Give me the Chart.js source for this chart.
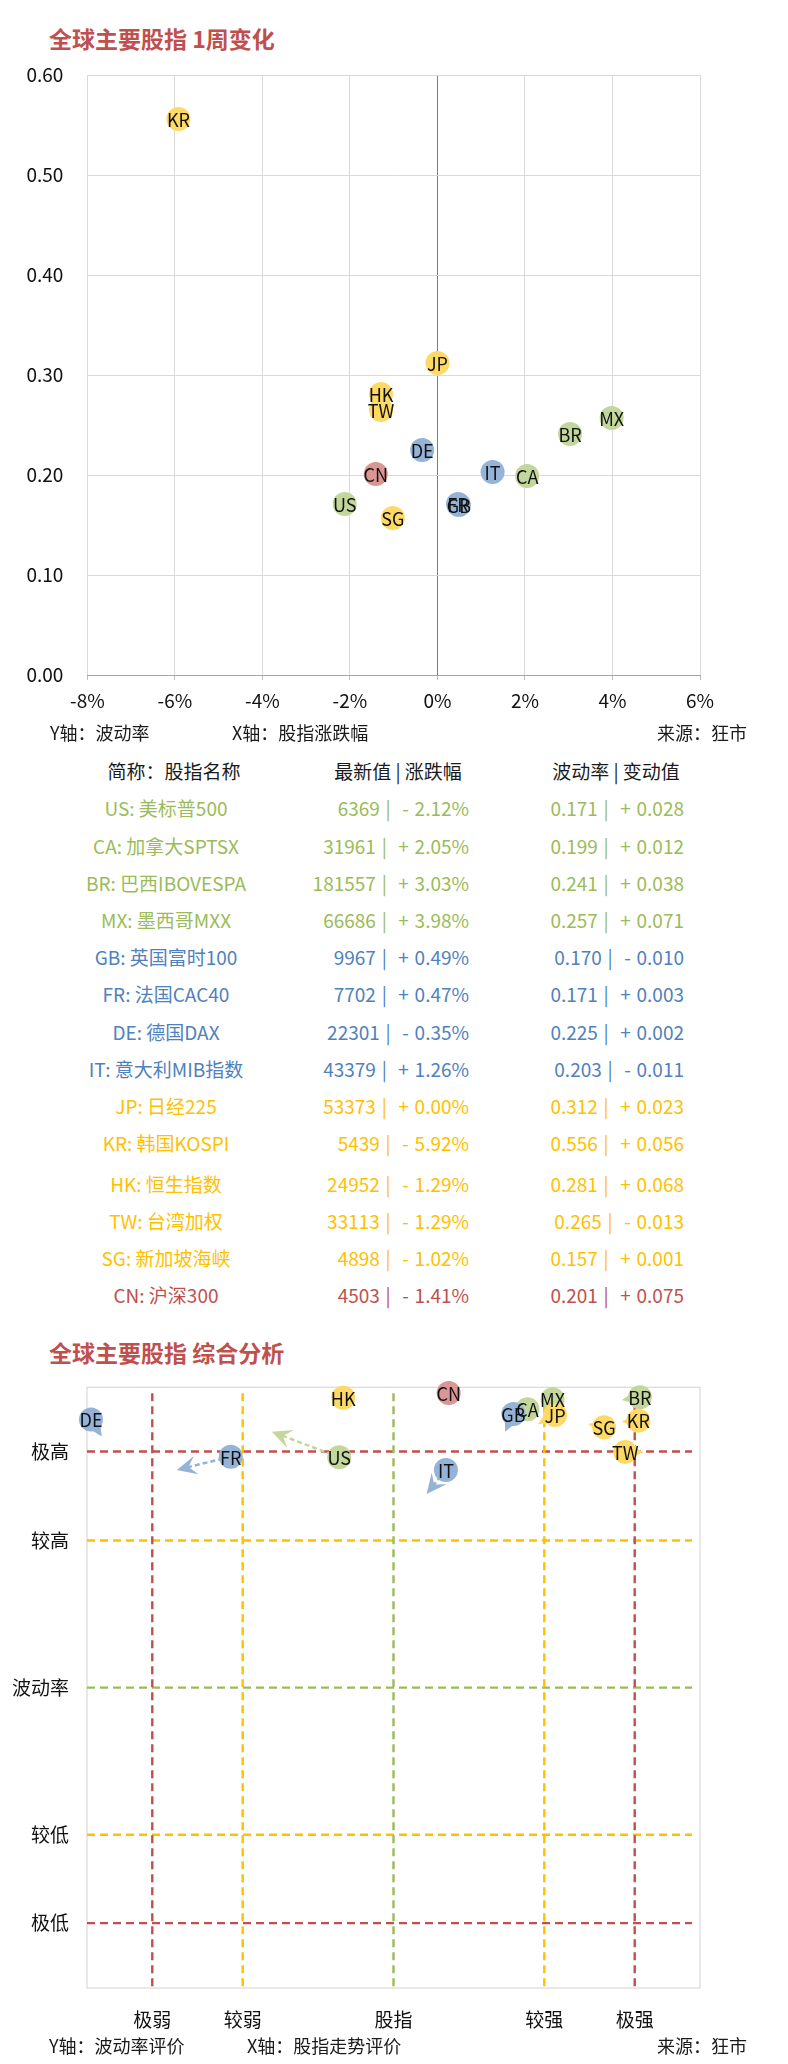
<!DOCTYPE html>
<html><head><meta charset="utf-8">
<script src="https://cdn.jsdelivr.net/npm/chart.js@4.4.1/dist/chart.umd.min.js"></script>
<style>
body{margin:0;background:#fff;font-family:"Noto Sans CJK SC","Noto Sans",sans-serif;}
#page{position:relative;width:788px;height:2064px;overflow:hidden;background:#fff;}
.t{position:absolute;white-space:nowrap;line-height:1;transform:translateY(-50%);font-size:18px;color:#1a1a1a;}
.title{position:absolute;white-space:nowrap;line-height:1;transform:translateY(-50%);font-size:23px;font-weight:bold;color:#c0504d;}
.wrap{position:absolute;left:0;width:788px;}
.cell{position:absolute;white-space:pre;line-height:1;font-size:19px;}
.num{word-spacing:1.5px;}
</style></head>
<body><div id="page">
<div class="title" style="left:49px;top:38px">全球主要股指 1周变化</div>
<div class="wrap" style="top:50px;height:680px"><canvas id="c1"></canvas></div>
<div class="t" style="left:50px;top:732px">Y轴：波动率</div>
<div class="t" style="left:232px;top:732px">X轴：股指涨跌幅</div>
<div class="t" style="right:41px;top:732px">来源：狂市</div>
<div id="table"></div>
<div class="title" style="left:49px;top:1352px">全球主要股指 综合分析</div>
<div class="wrap" style="top:1370px;height:665px"><canvas id="c2"></canvas></div>
<div class="t" style="left:49px;top:2045px">Y轴：波动率评价</div>
<div class="t" style="left:247px;top:2045px">X轴：股指走势评价</div>
<div class="t" style="right:41px;top:2045px">来源：狂市</div>
</div>
<script>
// ---------- data ----------
const codes = ['US','CA','BR','MX','GB','FR','DE','IT','JP','KR','HK','TW','SG','CN'];
const names = ['美标普500','加拿大SPTSX','巴西IBOVESPA','墨西哥MXX','英国富时100','法国CAC40','德国DAX','意大利MIB指数','日经225','韩国KOSPI','恒生指数','台湾加权','新加坡海峡','沪深300'];
const regions = ['am','am','am','am','eu','eu','eu','eu','as','as','as','as','as','cn'];
const latest = [6369,31961,181557,66686,9967,7702,22301,43379,53373,5439,24952,33113,4898,4503];
const weekChange = [-2.12,2.05,3.03,3.98,0.49,0.47,-0.35,1.26,0.00,-5.92,-1.29,-1.29,-1.02,-1.41];
const volatility = [0.171,0.199,0.241,0.257,0.170,0.171,0.225,0.203,0.312,0.556,0.281,0.265,0.157,0.201];
const volChange = [0.028,0.012,0.038,0.071,-0.010,0.003,0.002,-0.011,0.023,0.056,0.068,-0.013,0.001,0.075];

const trendScore = [-17.7,43.7,80.4,51.9,39.1,-53.1,-98.7,17.1,52.7,79.9,-16.4,75.6,68.7,18.0];
const volScore   = [76.7,92.7,96.7,96.0,91.1,76.9,89.3,72.5,90.8,88.9,96.5,78.5,86.7,98.1];
const arrowTrend = [-39.7,null,74.5,null,36.4,-70.7,-95.2,10.8,47.1,74.5,null,81.6,63.5,null];
const arrowVol   = [85.2,null,95.8,null,85.2,72.5,83.6,64.5,87.8,88.5,null,78.5,87.8,null];

const trendLevels = [-78.7,-49.2,0,49.2,78.7];
const trendLabels = ['极弱','较弱','股指','较强','极强'];
const volLevels = [78.6,49,0,-49,-78.4];
const volLabels = ['极高','较高','波动率','较低','极低'];

// ---------- styles ----------
const FONT = '"Noto Sans CJK SC","Noto Sans",sans-serif';
const fillColor = {am:'#c3d69b', eu:'#95b3d7', as:'#ffd966', cn:'#d99694'};
const textColor = {am:'#9bbb59', eu:'#4f81bd', as:'#ffc000', cn:'#c0504d'};
const levelColor = ['#c0504d','#ffc000','#9bbb59','#ffc000','#c0504d'];

// ---------- table ----------
const table = document.getElementById('table');
function addCell(txt, style, color, cls){
  const d = document.createElement('div');
  d.className='cell'+(cls?' '+cls:''); d.textContent=txt; d.style.cssText=style; d.style.color=color;
  table.appendChild(d);
}
function sgn(v){ return v<0 ? '-' : '+'; }
addCell('简称：股指名称','left:174px;top:770px;transform:translate(-50%,-50%)','#1a1a1a');
addCell('最新值 | 涨跌幅','left:398px;top:770px;transform:translate(-50%,-50%)','#1a1a1a');
addCell('波动率 | 变动值','left:616px;top:770px;transform:translate(-50%,-50%)','#1a1a1a');
codes.forEach((c,i)=>{
  const y = 807.3 + i*37.2 + (i>=10?3.5:0);
  const col = textColor[regions[i]];
  addCell(c+': '+names[i], 'left:166px;top:'+y+'px;transform:translate(-50%,-50%)', col);
  addCell(latest[i]+' |  '+sgn(weekChange[i])+' '+Math.abs(weekChange[i]).toFixed(2)+'%', 'right:319px;top:'+y+'px;transform:translateY(-50%)', col, 'num');
  addCell(volatility[i].toFixed(3)+' |  '+sgn(volChange[i])+' '+Math.abs(volChange[i]).toFixed(3), 'right:104px;top:'+y+'px;transform:translateY(-50%)', col, 'num');
});

// ---------- plugins ----------
const labelPlugin = {
  id:'bubbleLabels',
  afterDatasetsDraw(chart){
    const ctx = chart.ctx, meta = chart.getDatasetMeta(0);
    ctx.save();
    ctx.font = '18px '+FONT; ctx.fillStyle='#111'; ctx.textAlign='center'; ctx.textBaseline='middle';
    meta.data.forEach((pt,i)=>ctx.fillText(codes[i], pt.x, pt.y+1));
    ctx.restore();
  }
};

function arrowHead(ctx, x0,y0,x1,y1, color){
  const dx=x1-x0, dy=y1-y0, len=Math.hypot(dx,dy)||1;
  const ux=dx/len, uy=dy/len, nx=-uy, ny=ux;
  const L=20, W=9.5;
  ctx.fillStyle=color;
  ctx.beginPath();
  ctx.moveTo(x1,y1);
  ctx.lineTo(x1-ux*L+nx*W, y1-uy*L+ny*W);
  ctx.lineTo(x1-ux*L*0.6, y1-uy*L*0.6);
  ctx.lineTo(x1-ux*L-nx*W, y1-uy*L-ny*W);
  ctx.closePath(); ctx.fill();
}

const quadPlugin = {
  id:'quadrants',
  beforeDatasetsDraw(chart){
    const ctx=chart.ctx, a=chart.chartArea, xs=chart.scales.x, ys=chart.scales.y;
    ctx.save();
    ctx.strokeStyle='#d9d9d9'; ctx.lineWidth=1.2; ctx.setLineDash([]);
    ctx.strokeRect(a.left, a.top, a.right-a.left, a.bottom-a.top);
    ctx.lineWidth=2.4; ctx.setLineDash([8,5]);
    volLevels.forEach((v,i)=>{
      const y=ys.getPixelForValue(v);
      ctx.strokeStyle=levelColor[i]; ctx.beginPath(); ctx.moveTo(a.left,y); ctx.lineTo(a.right-8,y); ctx.stroke();
    });
    trendLevels.forEach((v,i)=>{
      const x=xs.getPixelForValue(v);
      ctx.strokeStyle=levelColor[i]; ctx.beginPath(); ctx.moveTo(x,a.top+6); ctx.lineTo(x,a.bottom); ctx.stroke();
    });
    codes.forEach((c,i)=>{
      if(arrowTrend[i]===null) return;
      const x0=xs.getPixelForValue(trendScore[i]), y0=ys.getPixelForValue(volScore[i]);
      const x1=xs.getPixelForValue(arrowTrend[i]), y1=ys.getPixelForValue(arrowVol[i]);
      const col=fillColor[regions[i]];
      ctx.strokeStyle=col; ctx.lineWidth=2.5; ctx.setLineDash([5,3]);
      const dx=x1-x0, dy=y1-y0, len=Math.hypot(dx,dy);
      ctx.beginPath(); ctx.moveTo(x0,y0); ctx.lineTo(x1-dx/len*10, y1-dy/len*10); ctx.stroke();
      ctx.setLineDash([]);
      arrowHead(ctx,x0,y0,x1,y1,col);
    });
    ctx.restore();
  }
};

function noPad(s){ s.paddingTop=0; s.paddingBottom=0; s.paddingLeft=0; s.paddingRight=0; }

// ---------- chart 1 ----------
const pts1 = codes.map((c,i)=>({x:weekChange[i], y:volatility[i]}));
new Chart(document.getElementById('c1'), {
  type:'scatter',
  data:{datasets:[{data:pts1, pointRadius:12, pointHoverRadius:12, borderWidth:0,
    backgroundColor:regions.map(r=>fillColor[r]), clip:false}]},
  options:{
    responsive:true, maintainAspectRatio:false, animation:false,
    layout:{padding:{top:25,right:88,left:0,bottom:0}},
    plugins:{legend:{display:false}, tooltip:{enabled:false}},
    scales:{
      x:{type:'linear', min:-8, max:6,
        afterFit(s){ s.height=55; noPad(s); },
        ticks:{stepSize:2, callback:v=>v+'%', color:'#111', font:{family:FONT,size:19}, padding:9, maxRotation:0},
        grid:{color:c=>(c.tick && c.tick.value===0)?'#7f7f7f':'#d9d9d9', drawTicks:true, tickLength:5, tickColor:'#bfbfbf'},
        border:{display:true, color:'#a6a6a6'}},
      y:{type:'linear', min:0, max:0.6,
        afterFit(s){ s.width=87.4; noPad(s); },
        ticks:{stepSize:0.1, callback:v=>v.toFixed(2), color:'#111', font:{family:FONT,size:19}, padding:24},
        grid:{color:c=>(c.tick && c.tick.value===0)?'#a6a6a6':'#d9d9d9', drawTicks:false},
        border:{display:false}}
    }
  },
  plugins:[labelPlugin]
});

// ---------- chart 2 ----------
const pts2 = codes.map((c,i)=>({x:trendScore[i], y:volScore[i]}));
new Chart(document.getElementById('c2'), {
  type:'scatter',
  data:{datasets:[{data:pts2, pointRadius:12, pointHoverRadius:12, borderWidth:0,
    backgroundColor:regions.map(r=>fillColor[r]), clip:false}]},
  options:{
    responsive:true, maintainAspectRatio:false, animation:false,
    layout:{padding:{top:17.3,right:88,left:0,bottom:0}},
    plugins:{legend:{display:false}, tooltip:{enabled:false}},
    scales:{
      x:{type:'linear', min:-100, max:100,
        afterFit(s){ s.height=47; noPad(s); },
        afterBuildTicks(s){ s.ticks = trendLevels.map(v=>({value:v})); },
        ticks:{callback:(v)=>trendLabels[trendLevels.indexOf(v)], color:'#111', font:{family:FONT,size:19}, padding:20, maxRotation:0, autoSkip:false},
        grid:{display:false, drawTicks:false}, border:{display:false}},
      y:{type:'linear', min:-100, max:100,
        afterFit(s){ s.width=87; noPad(s); },
        afterBuildTicks(s){ s.ticks = volLevels.map(v=>({value:v})); },
        ticks:{callback:(v)=>volLabels[volLevels.indexOf(v)], color:'#111', font:{family:FONT,size:19}, padding:18, autoSkip:false},
        grid:{display:false, drawTicks:false}, border:{display:false}}
    }
  },
  plugins:[quadPlugin, labelPlugin]
});
</script>
</body></html>
